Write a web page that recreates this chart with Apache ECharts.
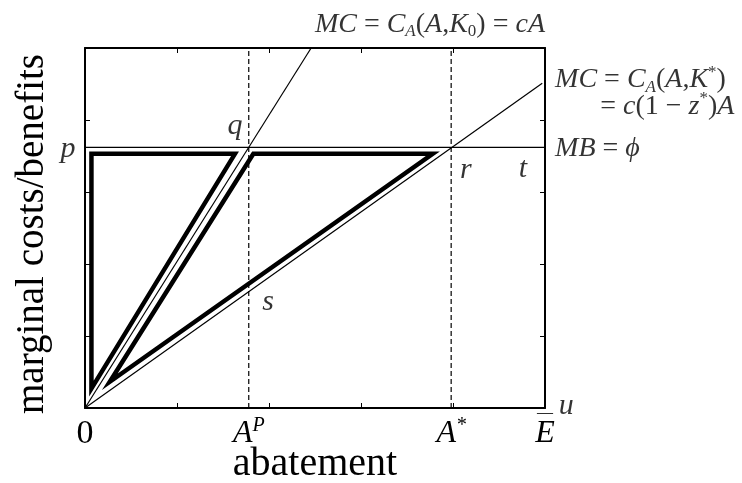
<!DOCTYPE html>
<html>
<head>
<meta charset="utf-8">
<script src="https://cdn.jsdelivr.net/npm/echarts@6/dist/echarts.min.js"></script>
<style>
	html, body { margin: 0; padding: 0; background: #fff; }
	#chart { width: 742px; height: 483px; }
</style>
</head>
<body>
<div id="chart"></div>
<script>
	// 数据（按坐标读出来的，x: 0..5, y: 0..5）
	const mbLine = [[0, 3.62], [5, 3.62]];
	const mcSteep = [[0, 0], [2.458, 5]];
	const mcFlat = [[0, 0], [4.97, 4.51]];
	const apLine = [[1.78, 0], [1.78, 5]];
	const astarLine = [[3.98, 0], [3.98, 5]];
	const leftLoop = [[0.07, 0.27], [0.07, 3.53], [1.63, 3.53], [0.07, 0.27], [0.07, 3.53]];
	const rightLoop = [[0.27, 0.365], [1.83, 3.53], [3.78, 3.53], [0.27, 0.365], [1.83, 3.53]];
	const tickValues = [0, 1.78, 3.98, 5];
	const tickNames = ['{ob| }\n{rm|0}', '{ob| }\n{it|A}{sup|P}', '{ob| }\n{it|A}{sup|*}', '{ob|\u2014}\n{it|E}'];

	const serif = '"Liberation Serif", "DejaVu Serif", serif';

	// 文字注释
	const notes = [
		{ at: [5, 5.33], align: 'right', text: '{it|MC}{rm| = }{it|C}{sub|A}{rm|(}{it|A}{rm|,}{it|K}{subr|0}{rm|) = }{it|cA}' },
		{ at: [5.11, 4.56], align: 'left', text: '{it|MC}{rm| = }{it|C}{sub|A}{rm|(}{it|A}{rm|,}{it|K}{supr|*}{rm|)}' },
		{ at: [5.6, 4.19], align: 'left', text: '{rm|= }{it|c}{rm|(1 \u2212 }{it|z}{supr|*}{rm|)}{it|A}' },
		{ at: [5.11, 3.6], align: 'left', text: '{it|MB}{rm| = }{it|\u03d5}' },
		{ at: [-0.185, 3.6], align: 'center', text: '{big|p}' },
		{ at: [1.63, 3.92], align: 'center', text: '{big|q}' },
		{ at: [4.14, 3.3], align: 'center', text: '{big|r}' },
		{ at: [4.76, 3.32], align: 'center', text: '{big|t}' },
		{ at: [1.99, 1.47], align: 'center', text: '{big|s}' },
		{ at: [5.23, 0.03], align: 'center', text: '{big|u}' }
	];

	const rich = {
		it: { fontFamily: serif, fontStyle: 'italic', fontSize: 28, lineHeight: 32, color: '#000' },
		rm: { fontFamily: serif, fontSize: 28, lineHeight: 32, color: '#000' },
		sub: { fontFamily: serif, fontStyle: 'italic', fontSize: 17, lineHeight: 17, verticalAlign: 'bottom', color: '#000' },
		subr: { fontFamily: serif, fontSize: 17, lineHeight: 17, verticalAlign: 'bottom', color: '#000' },
		supr: { fontFamily: serif, fontSize: 17, lineHeight: 17, verticalAlign: 'top', color: '#000' },
		big: { fontFamily: serif, fontStyle: 'italic', fontSize: 30, lineHeight: 34, color: '#000' }
	};

	function thin(data, dashed) {
		return {
			type: 'line', data: data, showSymbol: false, silent: true,
			lineStyle: { color: '#000', width: 1.2, type: dashed ? [5, 3] : 'solid' }
		};
	}
	function thick(data) {
		return {
			type: 'line', data: data, showSymbol: false, silent: true,
			lineStyle: { color: '#000', width: 4.5, join: 'miter', miterLimit: 10 }
		};
	}

	const frameAxis = {
		type: 'value', min: 0, max: 5, interval: 1,
		axisLine: { show: true, onZero: false, lineStyle: { color: '#000', width: 2 } },
		axisTick: { show: true, inside: true, length: 5, lineStyle: { color: '#000', width: 1 } },
		axisLabel: { show: false },
		splitLine: { show: false }
	};

	var myChart = echarts.init(document.getElementById('chart'));
	var options = {
		animation: false,
		backgroundColor: '#fff',
		grid: { left: 85, top: 48, right: 197, bottom: 75, containLabel: false, outerBoundsMode: 'none' },
		xAxis: [
			Object.assign({}, frameAxis, {
				position: 'bottom',
				name: 'abatement', nameLocation: 'middle', nameGap: 36, nameMoveOverlap: false,
				nameTextStyle: { fontFamily: serif, fontSize: 40, color: '#000', verticalAlign: 'top' },
				axisLabel: {
					show: true, margin: 2, customValues: tickValues,
					formatter: function(v) { return tickNames[tickValues.indexOf(v)]; },
					rich: {
						ob: { fontFamily: serif, fontSize: 16, lineHeight: 6, color: '#000' },
						rm: { fontFamily: serif, fontSize: 34, lineHeight: 36, color: '#000' },
						it: { fontFamily: serif, fontStyle: 'italic', fontSize: 32, lineHeight: 36, color: '#000' },
						sup: { fontFamily: serif, fontStyle: 'italic', fontSize: 20, lineHeight: 20, verticalAlign: 'top', color: '#000' }
					}
				}
			}),
			Object.assign({}, frameAxis, { position: 'top' })
		],
		yAxis: [
			Object.assign({}, frameAxis, {
				position: 'left',
				name: 'marginal costs/benefits', nameLocation: 'middle', nameGap: 33, nameRotate: 90,
				nameMoveOverlap: false,
				nameTextStyle: { fontFamily: serif, fontSize: 39, color: '#000', padding: [0, 12, 0, 0] }
			}),
			Object.assign({}, frameAxis, { position: 'right' })
		],
		series: [
			thin(mbLine), thin(mcSteep), thin(mcFlat),
			thin(apLine, true), thin(astarLine, true),
			thick(leftLoop), thick(rightLoop),
			{
				type: 'scatter', clip: false, silent: true, symbolSize: 0,
				itemStyle: { color: '#000' },
				data: notes.map(function(n) {
					return {
						value: n.at,
						label: {
							show: true, position: 'inside', align: n.align, verticalAlign: 'middle',
							color: '#000', textBorderWidth: 0, formatter: n.text, rich: rich
						}
					};
				})
			}
		]
	};
	myChart.setOption(options);
</script>
</body>
</html>
